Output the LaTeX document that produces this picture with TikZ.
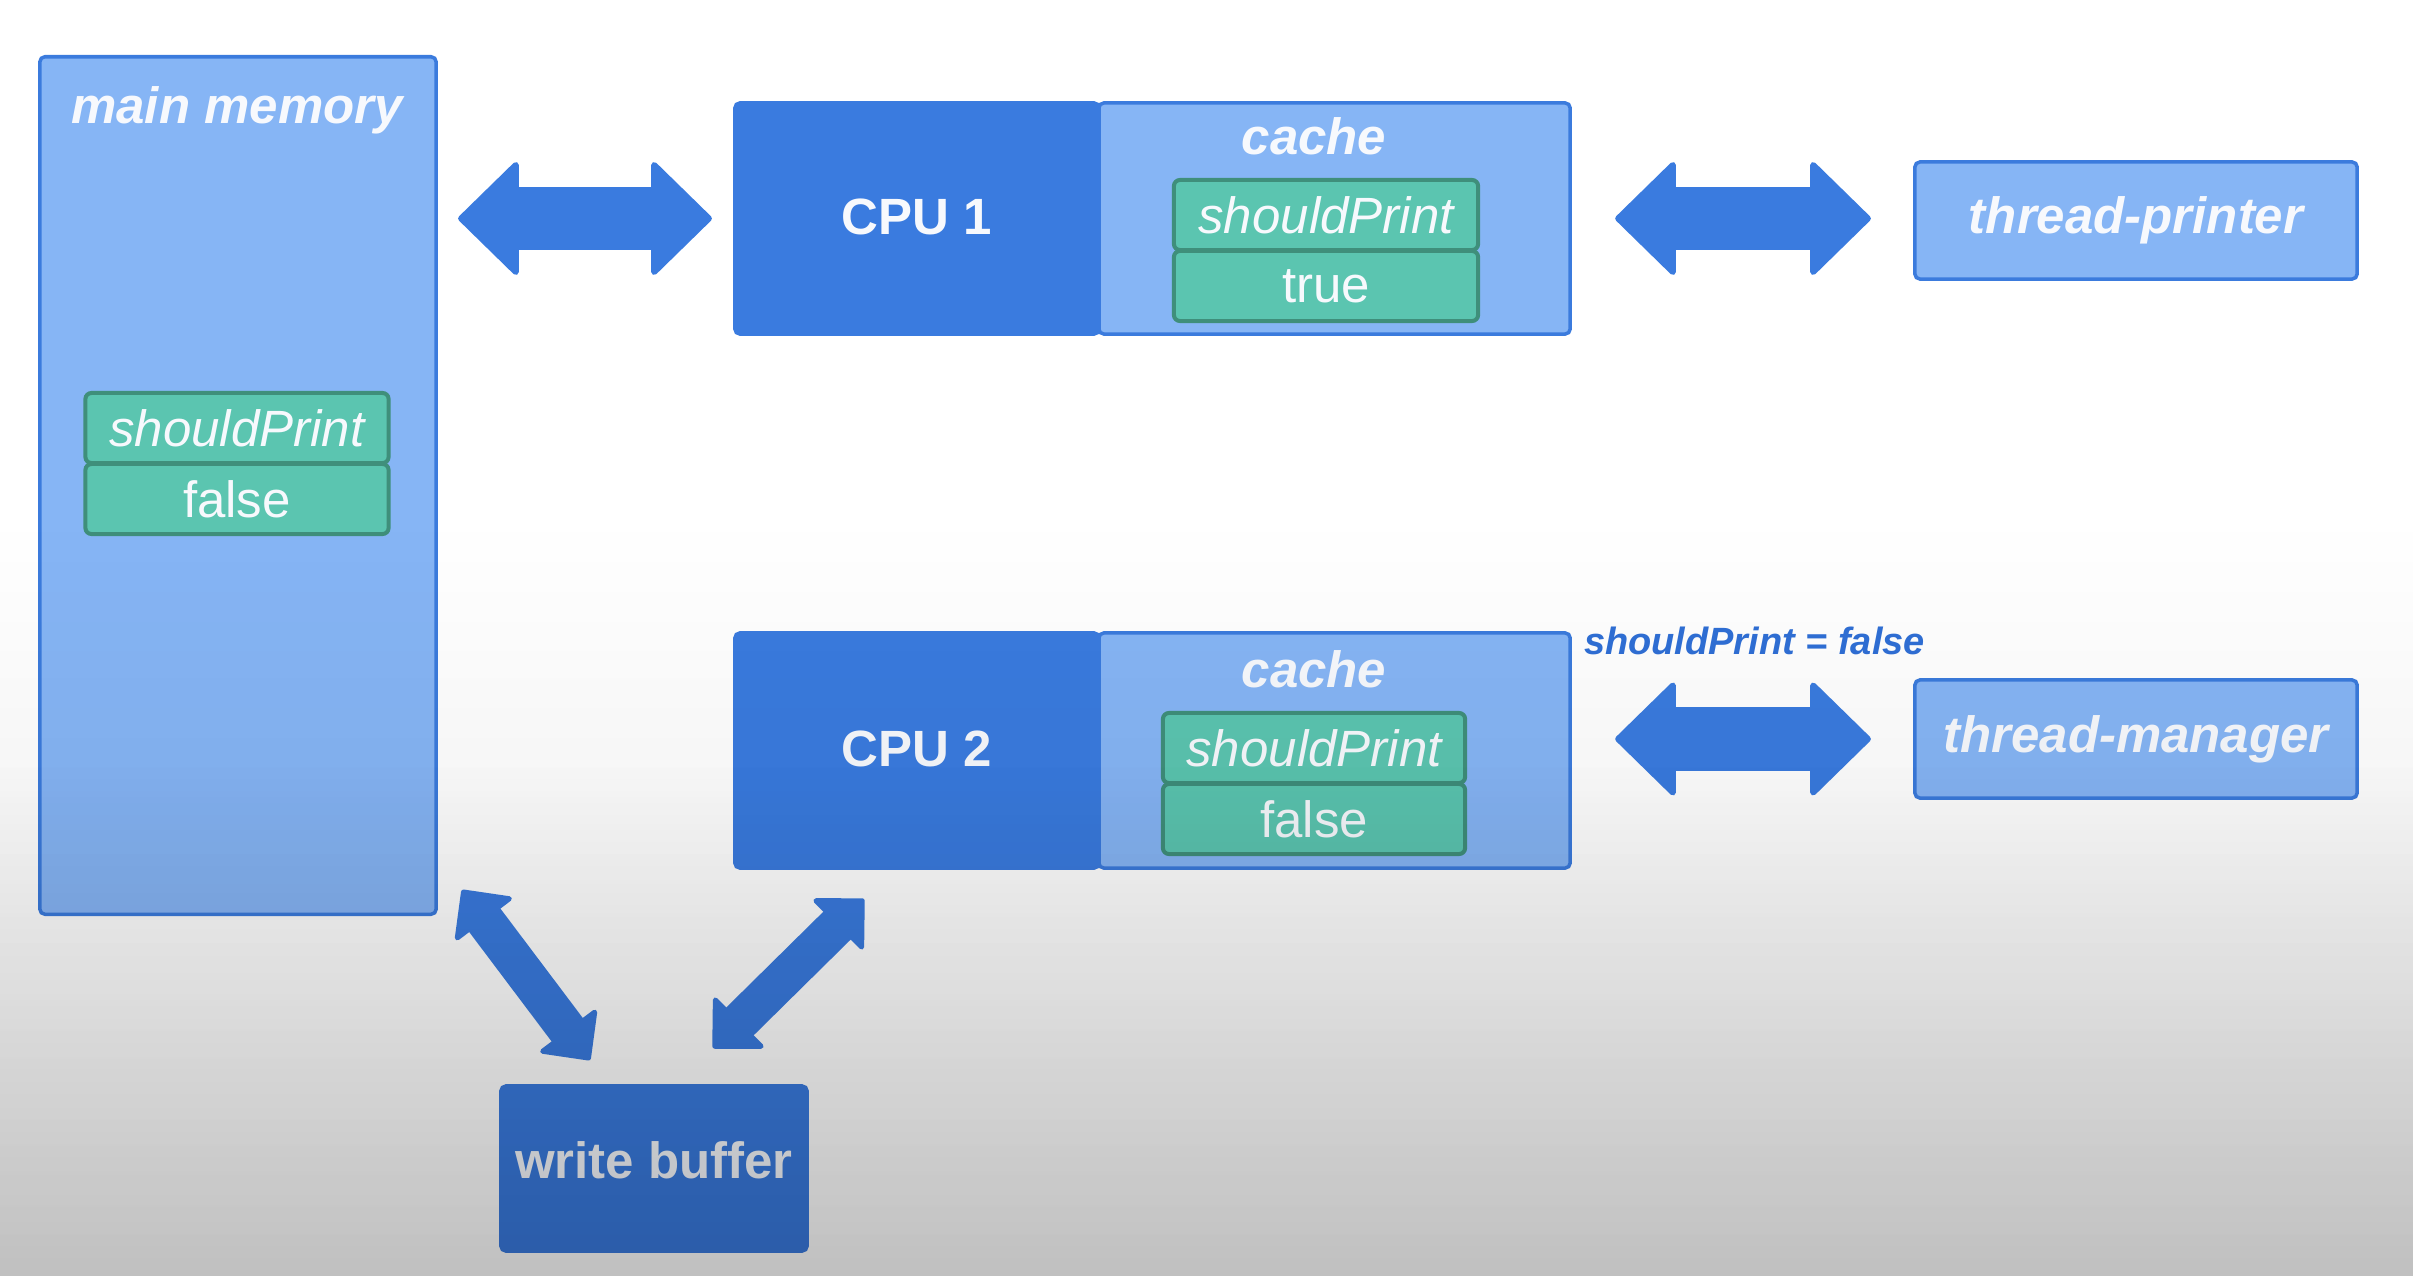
\documentclass[tikz,border=0pt]{standalone}
\usepackage{fontspec}
\setmainfont{Liberation Sans}
\usetikzlibrary{arrows.meta,fadings,calc}
\definecolor{dblue}{HTML}{3A7BDF}
\definecolor{lblue}{HTML}{86B5F5}
\definecolor{bord}{HTML}{3B7BDD}
\definecolor{tealf}{HTML}{5BC5B0}
\definecolor{tealb}{HTML}{3F8F7B}
\definecolor{txtw}{HTML}{F7F9FD}
\definecolor{lblc}{HTML}{2F6FD6}
\begin{document}
\begin{tikzpicture}[x=0.01cm,y=-0.01cm,
  every node/.style={inner sep=0pt, outer sep=0pt},
  lightbox/.style={fill=lblue, draw=bord, line width=0.035cm, rounded corners=0.05cm},
  darkbox/.style={fill=dblue, draw=dblue, line width=0.035cm, rounded corners=0.05cm, text=txtw, font=\fontsize{14.5}{17}\selectfont\bfseries},
  tealbox/.style={fill=tealf, draw=tealb, line width=0.04cm, rounded corners=0.06cm, text=txtw, minimum width=3.03cm, minimum height=0.70cm},
  varname/.style={tealbox, font=\fontsize{14.5}{17}\selectfont\itshape},
  varval/.style={tealbox, font=\fontsize{14.5}{17}\selectfont},
  titletext/.style={text=txtw, font=\fontsize{14.5}{17}\selectfont\bfseries\itshape},
  threadbox/.style={lightbox, titletext, minimum width=4.42cm, minimum height=1.17cm},
  bigarrow/.style={draw=dblue, line width=0.63cm,
     {Triangle[length=0.62cm,width=1.2cm,line width=0.06cm,round]}-{Triangle[length=0.62cm,width=1.2cm,line width=0.06cm,round]}},
  smallarrow/.style={draw=dblue, line width=0.39cm,
     {Triangle[length=0.39cm,width=0.76cm,line width=0.05cm,round]}-{Triangle[length=0.39cm,width=0.76cm,line width=0.05cm,round]}}
]
\fill[white] (0,0) rectangle (2416,1276);
\useasboundingbox (0,0) rectangle (2416,1276);

% main memory
\node[lightbox, minimum width=3.96cm, minimum height=8.57cm] (mem) at (238,485.5) {};
\node[titletext] (memtitle) at (237,110) {main memory};
\node[varname] (mvar) at (237,428) {shouldPrint};
\node[varval] (mval) at (237,499) {false};

% CPU 1
\node[lightbox, minimum width=4.71cm, minimum height=2.31cm] (cache1) at (1334.5,218.5) {};
\node[darkbox, minimum width=3.64cm, minimum height=2.31cm, text depth=0.04cm] (cpu1) at (917,218.5) {CPU 1};
\node[titletext] (cache1t) at (1314,136) {cache};
\node[varname, minimum width=3.04cm] (c1var) at (1326,215) {shouldPrint};
\node[varval, minimum width=3.04cm] (c1val) at (1326,286) {true};

% CPU 2
\node[lightbox, minimum width=4.71cm, minimum height=2.35cm] (cache2) at (1334.5,750.5) {};
\node[darkbox, minimum width=3.64cm, minimum height=2.35cm, text depth=0.04cm] (cpu2) at (917,750.5) {CPU 2};
\node[titletext] (cache2t) at (1314,669) {cache};
\node[varname, minimum width=3.02cm] (c2var) at (1314,748) {shouldPrint};
\node[varval, minimum width=3.02cm] (c2val) at (1314,819) {false};

% threads
\node[threadbox] (tp) at (2136,220.5) {thread-printer};
\node[threadbox, minimum height=1.18cm] (tm) at (2136,739) {thread-manager};
\node[anchor=west, text=lblc, font=\fontsize{10.8}{13}\selectfont\bfseries\itshape] (lbl) at (1584,641) {shouldPrint = false};

% write buffer
\node[darkbox, minimum width=3.06cm, minimum height=1.65cm, text depth=0.16cm] (wb) at (654,1168.5) {write buffer};

% arrows
\draw[bigarrow, shorten <=0.22cm, shorten >=0.23cm] (mem.east |- cache1.west) -- (cpu1.west |- cache1.west);
\draw[bigarrow, shorten <=0.45cm, shorten >=0.44cm] (cache1.east) -- (tp.west |- cache1.east);
\draw[bigarrow, shorten <=0.45cm, shorten >=0.44cm] (cache2.east |- tm.west) -- (tm.west);
\coordinate (a1) at (462,890);
\coordinate (a2) at (590,1060);
\coordinate (b1) at (864,899);
\coordinate (b2) at (713,1048);
\draw[smallarrow] (a1) -- (a2);
\draw[smallarrow] (b1) -- (b2);

% background shading overlay
\fill[black, opacity=0.10, path fading=north] (0,520) rectangle (2416,1276);
\fill[black, opacity=0.16, path fading=north] (0,760) rectangle (2416,1276);
\end{tikzpicture}
\end{document}
